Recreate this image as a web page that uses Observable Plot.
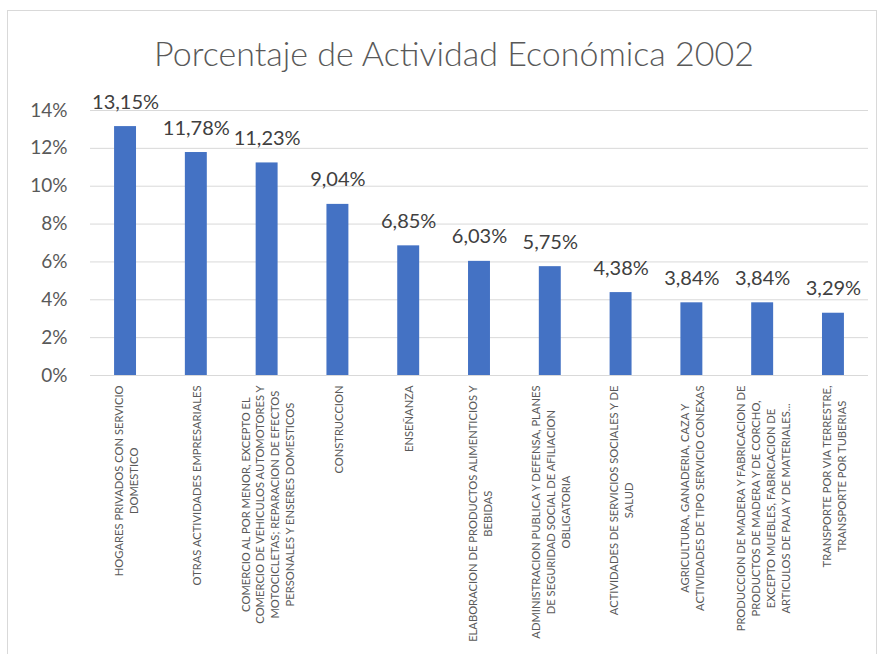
<!DOCTYPE html>
<html>
<head>
<meta charset="utf-8">
<script src="https://cdn.jsdelivr.net/npm/d3@7"></script>
<script src="https://cdn.jsdelivr.net/npm/@observablehq/plot@0.6"></script>
<style>
  html, body { margin: 0; padding: 0; background: #ffffff; }
  #wrap { position: relative; width: 883px; height: 654px; overflow: hidden; font-family: Lato, "Open Sans", sans-serif; }
  #frame { position: absolute; left: 7px; top: 10px; width: 870px; height: 700px; border: 1px solid #d9d9d9; box-sizing: border-box; }
  #title { position: absolute; left: 0; top: 32px; width: 908px; text-align: center; font-size: 34px; font-weight: 300; line-height: 42px; color: #595959; }
  #chart { position: absolute; left: 0; top: 0; }
</style>
</head>
<body>
<div id="wrap">
  <div id="frame"></div>
  <div id="chart"></div>
  <div id="title">Porcentaje de Actividad Económica 2002</div>
</div>
<script>
const categories = [
  "HOGARES PRIVADOS CON SERVICIO\nDOMESTICO",
  "OTRAS ACTIVIDADES EMPRESARIALES",
  "COMERCIO AL POR MENOR, EXCEPTO EL\nCOMERCIO DE VEHICULOS AUTOMOTORES Y\nMOTOCICLETAS; REPARACION DE EFECTOS\nPERSONALES Y ENSERES DOMESTICOS",
  "CONSTRUCCION",
  "ENSEÑANZA",
  "ELABORACION DE PRODUCTOS ALIMENTICIOS Y\nBEBIDAS",
  "ADMINISTRACION PUBLICA Y DEFENSA, PLANES\nDE SEGURIDAD SOCIAL DE AFILIACION\nOBLIGATORIA",
  "ACTIVIDADES DE SERVICIOS SOCIALES Y DE\nSALUD",
  "AGRICULTURA, GANADERIA, CAZA Y\nACTIVIDADES DE TIPO SERVICIO CONEXAS",
  "PRODUCCION DE MADERA Y FABRICACION DE\nPRODUCTOS DE MADERA Y DE CORCHO,\nEXCEPTO MUEBLES, FABRICACION DE\nARTICULOS DE PAJA Y DE MATERIALES...",
  "TRANSPORTE POR VIA TERRESTRE,\nTRANSPORTE POR TUBERIAS"
];
const values = [13.15, 11.78, 11.23, 9.04, 6.85, 6.03, 5.75, 4.38, 3.84, 3.84, 3.29];
const yTicks = [0, 2, 4, 6, 8, 10, 12, 14];

const data = categories.map((c, i) => ({category: c, value: values[i]}));
const fmt = v => v.toFixed(2).replace(".", ",") + "%";

const chart = Plot.plot({
  width: 883,
  height: 654,
  marginLeft: 90,
  marginRight: 15,
  marginTop: 110,
  marginBottom: 279,
  style: {fontFamily: "Lato, 'Open Sans', sans-serif", background: "transparent", overflow: "visible"},
  x: {domain: categories, paddingInner: 0.69, paddingOuter: 0.34, round: false, axis: null},
  y: {domain: [0, 14], axis: null},
  marks: [
    Plot.ruleY(yTicks, {stroke: "#d9d9d9", strokeWidth: 1}),
    Plot.barY(data, {x: "category", y: "value", fill: "#4472C4"}),
    Plot.axisY({ticks: yTicks, tickSize: 0, tickPadding: 23, fontSize: 19, fill: "#595959", tickFormat: d => d + "%", label: null}),
    Plot.text(data, {x: "category", y: "value", text: d => fmt(d.value), lineAnchor: "bottom", dy: -18, fontSize: 20, fill: "#404040"}),
    Plot.text(data, {x: "category", text: "category", frameAnchor: "bottom", dy: 10, rotate: -90, textAnchor: "end", lineAnchor: "middle", lineHeight: 1.33, fontSize: 11.2, fill: "#595959", className: "xlab"})
  ]
});
document.getElementById("chart").appendChild(chart);

// center the lines of each rotated label within its block (Excel style)
d3.select(chart).selectAll(".xlab text").each(function() {
  const t = d3.select(this);
  const spans = t.selectAll("tspan");
  if (spans.empty()) return;
  let M = 0;
  spans.each(function() { M = Math.max(M, this.getComputedTextLength()); });
  t.attr("text-anchor", "middle");
  spans.attr("x", -M / 2);
});
</script>
</body>
</html>
